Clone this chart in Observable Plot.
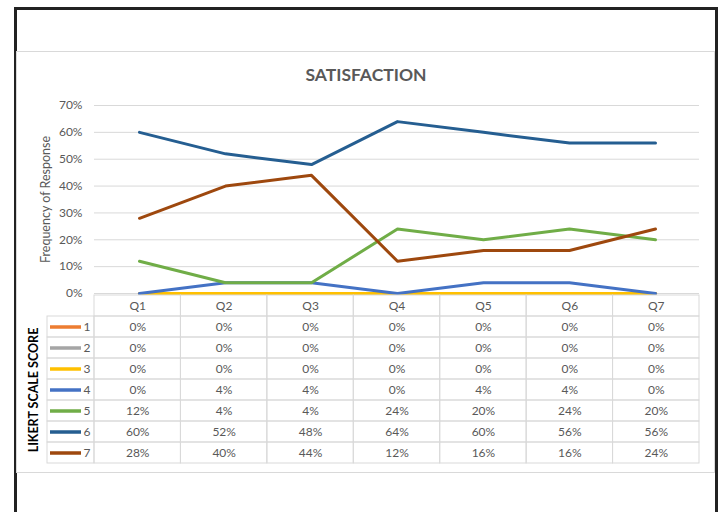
<!DOCTYPE html>
<html><head><meta charset="utf-8">
<script src="https://cdn.jsdelivr.net/npm/d3@7"></script>
<script src="https://cdn.jsdelivr.net/npm/@observablehq/plot@0.6"></script>
<style>
body{margin:0;background:#fff;}
#wrap{position:relative;width:724px;height:512px;overflow:hidden;background:#fff;font-family:Lato,"Open Sans",sans-serif;}
#frame{position:absolute;left:14px;top:7px;width:704px;height:530px;border:3px solid #222;box-sizing:border-box;}
#inner{position:absolute;left:16px;top:51px;width:699px;height:422px;border:1px solid #d9d9d9;box-sizing:border-box;}
#title{position:absolute;left:0;width:732px;top:65px;text-align:center;font-weight:700;font-size:17.5px;line-height:20px;color:#595959;}
.plot{position:absolute;left:0;top:0;}
</style></head>
<body><div id="wrap"><div id="frame"></div><div id="inner"></div><div id="title">SATISFACTION</div></div>
<script>
// ---- data ----
const questions = ["Q1","Q2","Q3","Q4","Q5","Q6","Q7"];
const scores = ["1","2","3","4","5","6","7"];
const colors = ["#ED7D31","#A5A5A5","#FFC000","#4472C4","#70AD47","#255E91","#9E480E"];
const score1 = [0,0,0,0,0,0,0];
const score2 = [0,0,0,0,0,0,0];
const score3 = [0,0,0,0,0,0,0];
const score4 = [0,4,4,0,4,4,0];
const score5 = [12,4,4,24,20,24,20];
const score6 = [60,52,48,64,60,56,56];
const score7 = [28,40,44,12,16,16,24];
const yTicks = [0,0.1,0.2,0.3,0.4,0.5,0.6,0.7];
const yTitle = "Frequency of Response";
const tableTitle = "LIKERT SCALE SCORE";

const series = [score1,score2,score3,score4,score5,score6,score7];
const long = [];
series.forEach((vals,si)=>vals.forEach((v,qi)=>long.push({score:scores[si], q:questions[qi], qi, v:v/100})));
const pct = d3.format(".0%");
const gray = "#595959";
const font = "Lato, 'Open Sans', sans-serif";

// ---- chart ----
const chart = Plot.plot({
  width:724, height:300, marginLeft:94, marginRight:25, marginTop:105, marginBottom:7,
  style:{fontFamily:font, color:gray, background:"transparent", overflow:"visible"},
  x:{type:"point", domain:questions, padding:0.5, axis:null},
  y:{domain:[0,0.7], axis:null},
  color:{domain:scores, range:colors},
  marks:[
    Plot.ruleY(yTicks,{stroke:"#d9d9d9", strokeWidth:1}),
    Plot.axisY({ticks:yTicks, tickSize:0, tickPadding:12, tickFormat:pct, fontSize:12, label:null}),
    Plot.text([yTitle],{frameAnchor:"left", textAnchor:"middle", rotate:-90, dx:-49, fontSize:12.5, fill:gray}),
    Plot.line(long,{x:"q", y:"v", z:"score", stroke:"score", strokeWidth:3})
  ]
});
chart.classList.add("plot");

// ---- table ----
const colW = 605/7;
const legendUnits = 47/colW;
const rows = ["head", ...scores];
const cells = [];
rows.forEach(r=>questions.forEach((q,i)=>cells.push({row:r, c0:i, c1:i+1})));
const legendCells = scores.map(s=>({row:s, c0:-legendUnits, c1:0}));
const headers = questions.map((q,i)=>({row:"head", cx:i+0.5, label:q}));
const values = long.map(d=>({row:d.score, cx:d.qi+0.5, label:pct(d.v)}));
const legendLines = scores.map(s=>({row:s}));

const table = Plot.plot({
  width:724, height:512, marginLeft:47, marginRight:25, marginTop:293, marginBottom:48,
  style:{fontFamily:font, color:gray, background:"transparent", overflow:"visible"},
  x:{type:"linear", domain:[-legendUnits,7], axis:null},
  y:{type:"band", domain:rows, padding:0, axis:null},
  color:{domain:scores, range:colors},
  marks:[
    Plot.barX(cells,{x1:"c0", x2:"c1", y:"row", fill:"none", stroke:"#d9d9d9", strokeWidth:1}),
    Plot.barX(legendCells,{x1:"c0", x2:"c1", y:"row", fill:"none", stroke:"#d9d9d9", strokeWidth:1}),
    Plot.text(headers,{x:"cx", y:"row", text:"label", fontSize:12, fill:gray}),
    Plot.text(values,{x:"cx", y:"row", text:"label", fontSize:12, fill:gray}),
    Plot.ruleY(legendLines,{y:"row", x1:-legendUnits+3/colW, x2:-legendUnits+34/colW, stroke:"row", strokeWidth:3.5}),
    Plot.text(legendLines,{y:"row", x:-legendUnits+36/colW, text:"row", textAnchor:"start", fontSize:12, fill:gray}),
    Plot.text([tableTitle],{frameAnchor:"left", textAnchor:"middle", rotate:-90, dx:-14, dy:11, fontSize:12.5, fontWeight:700, fill:"#000"})
  ]
});
table.classList.add("plot");

const wrap = document.getElementById("wrap");
wrap.appendChild(chart);
wrap.appendChild(table);
</script>
</body></html>
